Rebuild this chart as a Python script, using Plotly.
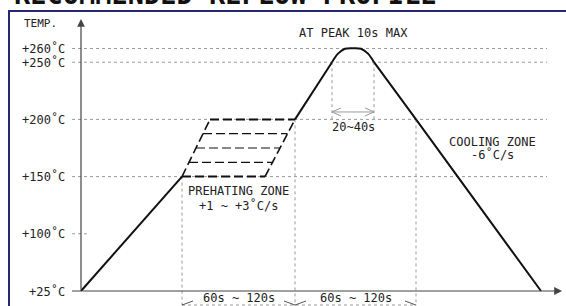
import plotly.graph_objects as go

# ---------------- data (schematic units) ----------------
# vertical: schematic temperature levels
temp_labels = ["+25°C", "+100°C", "+150°C", "+200°C", "+250°C", "+260°C"]
temp_levels = [0, 1, 2, 3, 4, 4.24]
# horizontal: schematic time positions
t_preheat_start = 101
t_preheat_top_left = 129
t_preheat_bottom_right = 184
t_reflow_start = 214
t_liquid_up = 251
t_liquid_down = 293
t_cool_200 = 335
t_end = 460
# peak cap (rounded top)
peak_t = [251, 257, 264, 272, 280, 287, 293]
peak_y = [4.0, 4.15, 4.235, 4.245, 4.235, 4.15, 4.0]
preheat_steps = [2, 2.25, 2.5, 2.75, 3]

LV = dict(zip(temp_labels, temp_levels))
Y_MIN, Y_MAX = -0.2622, 5.0874
X_MIN, X_MAX = -81, 485

BLACK = "#111111"
GRID = "#9a9a9a"
AX = "#444444"
FONT = "DejaVu Sans Mono"

fig = go.Figure()

def seg(xs, ys, color=BLACK, width=2, dash="solid", shape="linear"):
    fig.add_trace(go.Scatter(x=xs, y=ys, mode="lines", hoverinfo="skip",
                             line=dict(color=color, width=width, dash=dash, shape=shape),
                             showlegend=False, cliponaxis=False))

# dotted horizontal guides
for lab in ["+150°C", "+200°C", "+250°C", "+260°C"]:
    seg([-9, 466], [LV[lab]] * 2, GRID, 1, "dot")
seg([-9, 7], [LV["+100°C"]] * 2, GRID, 1, "dot")
seg([-9, 0], [LV["+25°C"]] * 2, AX, 1)

# dotted vertical guides
seg([t_preheat_start] * 2, [LV["+150°C"], Y_MIN], GRID, 1, "dot")
seg([t_reflow_start] * 2, [LV["+200°C"], Y_MIN], GRID, 1, "dot")
seg([t_cool_200] * 2, [LV["+200°C"], Y_MIN], GRID, 1, "dot")
seg([t_liquid_up] * 2, [LV["+250°C"], LV["+200°C"]], GRID, 1, "dot")
seg([t_liquid_down] * 2, [LV["+250°C"], LV["+200°C"]], GRID, 1, "dot")

# axes with arrows
fig.add_annotation(x=0, y=4.755, ax=0, ay=0, xref="x", yref="y", axref="x", ayref="y",
                   text="", showarrow=True, arrowhead=2, arrowsize=1.3, arrowwidth=1.2,
                   arrowcolor=AX)
fig.add_annotation(x=481, y=0, ax=0, ay=0, xref="x", yref="y", axref="x", ayref="y",
                   text="", showarrow=True, arrowhead=2, arrowsize=1.3, arrowwidth=1.2,
                   arrowcolor=AX)

# profile: ramp up
seg([0, t_preheat_start], [LV["+25°C"], LV["+150°C"]])
# preheat zone (dashed parallelogram)
lo, hi = preheat_steps[0], preheat_steps[-1]
for i, s in enumerate(preheat_steps):
    f = (s - lo) / (hi - lo)
    xl = t_preheat_start + f * (t_preheat_top_left - t_preheat_start)
    xr = t_preheat_bottom_right + f * (t_reflow_start - t_preheat_bottom_right)
    w = 2 if i in (0, len(preheat_steps) - 1) else 1.2
    seg([xl, xr], [s, s], BLACK, w, "9px,4px")
seg([t_preheat_start, t_preheat_top_left], [lo, hi], BLACK, 1.6, "9px,4px")
seg([t_preheat_bottom_right, t_reflow_start], [lo, hi], BLACK, 1.6, "9px,4px")
# reflow ramp
seg([t_reflow_start, t_liquid_up], [LV["+200°C"], LV["+250°C"]])
seg(peak_t, peak_y, shape="spline")
# cooling
seg([t_liquid_down, t_cool_200, t_end], [LV["+250°C"], LV["+200°C"], LV["+25°C"]])

# 20~40s double arrow
ya = 3.13
hh = 0.07
seg([t_liquid_up, t_liquid_down], [ya, ya], GRID, 1)
seg([t_liquid_up + 9, t_liquid_up, t_liquid_up + 9], [ya + hh, ya, ya - hh], GRID, 1)
seg([t_liquid_down - 9, t_liquid_down, t_liquid_down - 9], [ya + hh, ya, ya - hh], GRID, 1)

# bottom brackets 60s ~ 120s
yb = -0.245
seg([t_preheat_start, t_cool_200], [yb, yb], GRID, 1, "dot")
for a, b in [(t_preheat_start, t_reflow_start), (t_reflow_start, t_cool_200)]:
    seg([a, a + 11], [yb, yb + 0.07], "#555555", 1)
    seg([b, b - 11], [yb, yb + 0.07], "#555555", 1)

# texts
def txt(x, y, s, size=12, xanchor="center", yanchor="middle", color="#222222", xref="x", yref="y"):
    fig.add_annotation(x=x, y=y, text=s, showarrow=False, xref=xref, yref=yref,
                       xanchor=xanchor, yanchor=yanchor,
                       font=dict(family=FONT, size=size, color=color))

for lab, lv in zip(temp_labels, temp_levels):
    txt(-14, lv, lab.replace("°", "˚"), 12, xanchor="right")

txt(-41, 4.68, "TEMP.", 11)
txt(468, -0.28, "TIME", 11)
txt(272, 4.51, "AT PEAK 10s MAX", 12)
txt(272, 2.86, "20~40s", 12)
txt(157, 1.75, "PREHATING ZONE", 12)
txt(157, 1.49, "+1 ~ +3˚C/s", 12)
txt(411, 2.6, "COOLING ZONE", 12)
txt(411, 2.38, "-6˚C/s", 12)
txt((t_preheat_start + t_reflow_start) / 2, -0.12, "60s ~ 120s", 12)
txt((t_reflow_start + t_cool_200) / 2, -0.12, "60s ~ 120s", 12)

# title (cut off at top)
fig.add_annotation(x=225 / 566, y=1 + 6 / 306, xref="paper", yref="paper", showarrow=False,
                   text="<b>RECOMMENDED REFLOW PROFILE</b>", xanchor="center", yanchor="middle",
                   font=dict(family=FONT, size=27, color="#111111"))

# frame
fig.add_shape(type="rect", xref="paper", yref="paper", x0=9 / 566, x1=1.05, y0=-0.1,
              y1=1 - 11 / 306, line=dict(color="#262673", width=2), layer="below")

fig.update_layout(
    width=566, height=306, margin=dict(l=0, r=0, t=0, b=0, autoexpand=False),
    paper_bgcolor="white", plot_bgcolor="white",
    xaxis=dict(range=[X_MIN, X_MAX], visible=False, fixedrange=True),
    yaxis=dict(range=[Y_MIN, Y_MAX], visible=False, fixedrange=True),
    showlegend=False,
)

fig.write_html("out.html", config={"displayModeBar": False},
               post_script="document.body.style.margin='0';document.body.style.overflow='hidden';")
